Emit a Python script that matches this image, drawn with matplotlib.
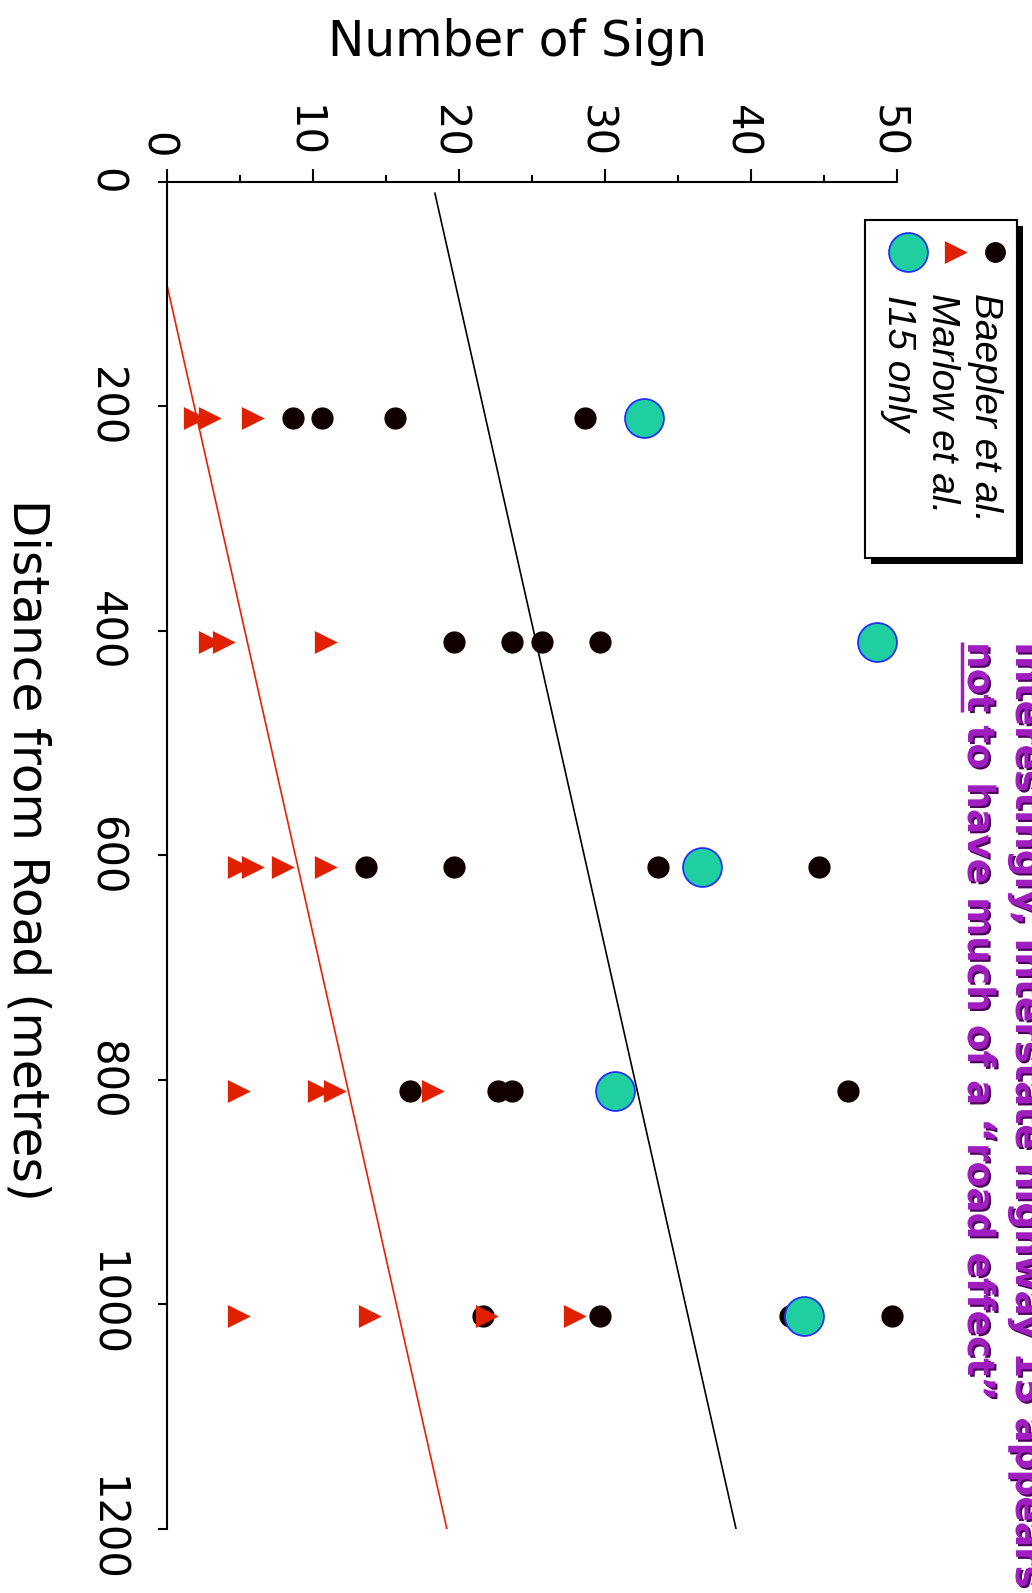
import matplotlib
matplotlib.use('Agg')
from matplotlib import pyplot as plt
from matplotlib import transforms as mtransforms
from matplotlib import patheffects as pe
from matplotlib.patches import Rectangle

# survey rows, distance from road (metres)
row_dist = [200, 400, 600, 800, 1000]

# Baepler et al. - number of sign at each row
baepler_200 = [9, 11, 16, 29]
baepler_400 = [20, 24, 26, 30]
baepler_600 = [14, 20, 34, 45]
baepler_800 = [17, 23, 24, 47]
baepler_1000 = [22, 30, 43, 50]

# Marlow et al.
marlow_200 = [2, 3, 6]
marlow_400 = [3, 4, 11]
marlow_600 = [5, 6, 8, 11]
marlow_800 = [5, 10.5, 11.6, 18.3]
marlow_1000 = [5, 14, 22, 28]

# I15 only (one per row)
i15_only = [33, 49, 37, 31, 44]

# fitted lines
fit_dist = [0, 1200]
baepler_fit = [18.7, 39.5]
marlow_fit = [-1.06, 19.7]

sign_ticks = [0, 10, 20, 30, 40, 50]
dist_ticks = [0, 200, 400, 600, 800, 1000, 1200]

baepler = [baepler_200, baepler_400, baepler_600, baepler_800, baepler_1000]
marlow = [marlow_200, marlow_400, marlow_600, marlow_800, marlow_1000]

W, H = 1032, 1593
fig = plt.figure(figsize=(W / 100, H / 100), dpi=100)
fig.patch.set_facecolor('white')

ax = fig.add_axes([166.8 / W, 1 - 1529 / H, 730.2 / W, (1529 - 181.7) / H])
ax.set_xlim(0, 50)
ax.set_ylim(1200, 0)
ax.spines['right'].set_visible(False)
ax.spines['bottom'].set_visible(False)
ax.spines['top'].set_linewidth(1.5)
ax.spines['left'].set_linewidth(1.5)
ax.xaxis.set_ticks_position('top')
ax.set_xticks(sign_ticks)
ax.set_xticks([5, 15, 25, 35, 45], minor=True)
ax.set_yticks(dist_ticks)
ax.tick_params(axis='x', which='major', length=9.5, width=1.5, pad=7.5,
               labelsize=30, labelrotation=-90)
ax.tick_params(axis='x', which='minor', length=5, width=1.5)
ax.tick_params(axis='y', length=6.5, width=1.5, pad=22.5, labelsize=30,
               labelrotation=-90)
for lab in ax.get_yticklabels():
    lab.set_va('center')
# number labels sit a little left of their ticks in the original
lab_shift = mtransforms.ScaledTranslation(-10 / 100, 0, fig.dpi_scale_trans)
for lab in ax.get_xticklabels():
    lab.set_transform(lab.get_transform() + lab_shift)

# the plotted marks sit a few pixels off the axis frame in the original
shift = mtransforms.ScaledTranslation(-5 / 100, -11.5 / 100, fig.dpi_scale_trans)
tr = ax.transData + shift

ax.plot(baepler_fit, fit_dist, color='black', lw=1.2, transform=tr, zorder=2)
ax.plot(marlow_fit, fit_dist, color='#E82000', lw=1.2, transform=tr, zorder=2)

tri = [(-0.5, 0.75), (-0.5, -0.75), (1, 0)]
for d, vals in zip(row_dist, baepler):
    ax.plot(vals, [d] * len(vals), 'o', color='#110000', ms=15,
            transform=tr, clip_on=False, zorder=3)
for d, vals in zip(row_dist, marlow):
    ax.plot(vals, [d] * len(vals), linestyle='none', marker=tri, color='#E02000',
            ms=22, mew=0, transform=tr, clip_on=False, zorder=4)
ax.plot(i15_only, row_dist, 'o', mfc='#20CFA0', mec='#2030FF', mew=1.3, ms=28,
        transform=tr, clip_on=False, zorder=5)

# overlay in pixel coordinates for legend and notes
ov = fig.add_axes([0, 0, 1, 1])
ov.set_xlim(0, W)
ov.set_ylim(H, 0)
ov.axis('off')
ov.set_facecolor('none')

ov.add_patch(Rectangle((871, 226), 152, 338, facecolor='black', edgecolor='none'))
ov.add_patch(Rectangle((865, 220), 152, 338, facecolor='white',
                       edgecolor='black', lw=1.5))
ov.plot(995, 252, 'o', color='#110000', ms=14)
ov.plot(952, 252, linestyle='none', marker=tri, color='#E02000', ms=22, mew=0)
ov.plot(908, 252, 'o', mfc='#20CFA0', mec='#2030FF', mew=1.3, ms=28)
leg_kw = dict(rotation=-90, rotation_mode='anchor', ha='left', va='baseline',
              fontsize=28, fontstyle='italic', family='Liberation Sans')
ov.text(975, 293, 'Baepler et al.', **leg_kw)
ov.text(932, 293, 'Marlow et al.', **leg_kw)
ov.text(888, 295, 'I15 only', **leg_kw)

# purple note, partly off the page
purple = '#A01EC0'
note_kw = dict(rotation=-90, rotation_mode='anchor', ha='left', va='baseline',
               fontsize=27, fontweight='bold', color=purple, family='DejaVu Sans',
               path_effects=[pe.SimplePatchShadow(offset=(1.5, -1.5),
                                                  shadow_rgbFace='#4A0058', alpha=1),
                             pe.Normal()])
ov.text(1016, 642, 'Interestingly, Interstate highway 15 appears', **note_kw)
ov.text(968, 642, 'not to have much of a \u201croad effect\u201d', **note_kw)

# underline "not"
fig.canvas.draw()
r = fig.canvas.get_renderer()
tmp = ov.text(968, 642, 'not', **note_kw)
bb = tmp.get_window_extent(r)
tmp.remove()
inv = ov.transData.inverted()
(_, y0), (_, y1) = inv.transform([(bb.x0, bb.y0), (bb.x1, bb.y1)])
ov.plot([962, 962], [min(y0, y1), max(y0, y1)], color=purple, lw=2.5,
        solid_capstyle='butt')

# axis titles
fig.text(518 / W, 1 - 56 / H, 'Number of Sign', ha='center', va='baseline',
         fontsize=35)
ov.text(13, 850, 'Distance from Road (metres)', rotation=-90,
        rotation_mode='anchor', ha='center', va='baseline', fontsize=35)

fig.savefig('out.png', dpi=100)
